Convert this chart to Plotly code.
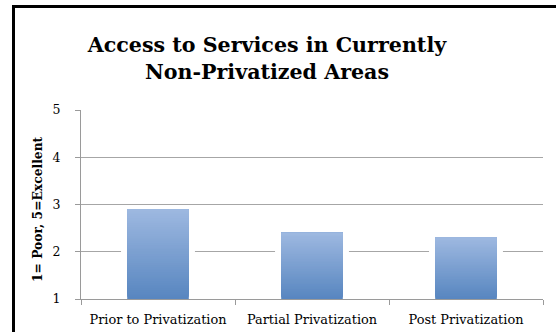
import plotly.graph_objects as go

# Survey ratings (1 = Poor, 5 = Excellent)
categories = ["Prior to Privatization", "Partial Privatization", "Post Privatization"]
ratings = [2.9, 2.4, 2.3]
y_ticks = [1, 2, 3, 4, 5]

TITLE = "Access to Services in Currently<br>Non-Privatized Areas"
Y_TITLE = "1= Poor, 5=Excellent"
SERIF = "DejaVu Serif"

# Plot-area geometry in pixels (used only to place the frame and axis title)
W, H = 560, 335
L, R, T, B = 81, 17, 110, 36
pw, ph = W - L - R, H - T - B


def px_to_paper_x(px):
    return (px - L) / pw


def px_to_paper_y(py):
    return (H - B - py) / ph


def lerp_color(c1, c2, t):
    return "rgb({},{},{})".format(*[round(a + (b - a) * t) for a, b in zip(c1, c2)])


TOP_COLOR = (157, 184, 224)
BOTTOM_COLOR = (88, 134, 192)
N_SLICES = 40
BASE = 1.0

fig = go.Figure()

# White halo behind each bar, masking the gridlines next to it
fig.add_trace(go.Bar(
    x=categories,
    y=[v - BASE for v in ratings],
    base=BASE,
    width=0.48,
    marker=dict(color="white", line=dict(width=0)),
    hoverinfo="skip",
    showlegend=False,
))

# Vertical gradient fill: overlapping bars, each starting a little higher
for k in range(N_SLICES):
    t = k / (N_SLICES - 1)
    starts = [BASE + (v - BASE) * k / N_SLICES for v in ratings]
    fig.add_trace(go.Bar(
        x=categories,
        y=[v - s for v, s in zip(ratings, starts)],
        base=starts,
        width=0.4,
        marker=dict(color=lerp_color(BOTTOM_COLOR, TOP_COLOR, t), line=dict(width=0)),
        hoverinfo="skip",
        showlegend=False,
    ))


def frame_bar(x_px, y_px, w_px, h_px):
    """Solid black strip (left/top edge of the chart frame), anchored at its top-left corner."""
    return dict(
        text=" ", showarrow=False,
        xref="paper", yref="paper",
        x=px_to_paper_x(x_px), y=px_to_paper_y(y_px),
        xanchor="left", yanchor="top",
        width=w_px, height=h_px,
        bgcolor="black", borderwidth=0, borderpad=0,
        font=dict(size=1),
    )


fig.update_layout(
    width=W, height=H,
    margin=dict(l=L, r=R, t=T, b=B, pad=0, autoexpand=False),
    paper_bgcolor="white",
    plot_bgcolor="white",
    barmode="overlay",
    font=dict(family=SERIF, color="black"),
    title=dict(
        text="<b>" + TITLE + "</b>",
        x=267 / W, xanchor="center",
        y=1 - 52 / H, yanchor="top",
        font=dict(size=20.6, family=SERIF, color="black"),
        automargin=False,
    ),
    xaxis=dict(
        showgrid=False,
        showline=True, linecolor="#9a9a9a", linewidth=1,
        ticks="outside", ticklen=5, tickcolor="#9a9a9a",
        tickson="boundaries",
        ticklabelstandoff=9,
        tickfont=dict(size=12.9, family=SERIF, color="black"),
        automargin=False,
        fixedrange=True,
    ),
    yaxis=dict(
        range=[1, 5],
        tickvals=y_ticks,
        showgrid=True, gridcolor="#a6a6a6", gridwidth=1,
        showline=True, linecolor="#9a9a9a", linewidth=1,
        ticks="outside", ticklen=5, tickcolor="#9a9a9a",
        ticklabelstandoff=12,
        tickfont=dict(size=12.5, family=SERIF, color="black"),
        zeroline=False,
        automargin=False,
        fixedrange=True,
    ),
    annotations=[
        dict(
            text="<b>" + Y_TITLE + "</b>",
            xref="paper", yref="paper",
            x=px_to_paper_x(37), y=px_to_paper_y(209),
            xanchor="center", yanchor="middle",
            textangle=-90, showarrow=False,
            font=dict(size=12.3, family=SERIF, color="black"),
        ),
        # Frame edges kept strictly inside the figure
        frame_bar(11.5, 4.5, 3, 327),
        frame_bar(11.5, 4.5, 544, 3),
    ],
)

fig.write_html("out.html")
